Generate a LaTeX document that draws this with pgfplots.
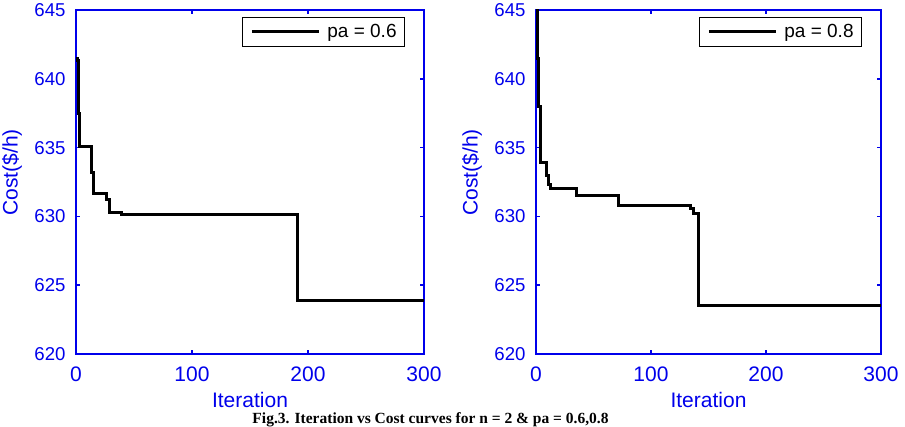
\documentclass[border=0pt]{standalone}
\usepackage{fontspec}
\setmainfont{Liberation Sans}
\newfontfamily\capfont{Liberation Serif}
\usepackage{pgfplots}
\pgfplotsset{compat=1.18}

\definecolor{mblue}{RGB}{0,0,235}

\pgfplotsset{
  costaxis/.style={
    scale only axis,
    anchor=south west,
    height=344pt,
    xmin=0, xmax=300, ymin=620, ymax=645,
    xtick={0,100,200,300},
    ytick={620,625,630,635,640,645},
    tick pos=both,
    tick align=inside,
    major tick length=4pt,
    axis line style={draw=mblue, line width=2pt},
    every tick/.style={draw=mblue, line width=1.5pt},
    /pgf/number format/assume math mode=true,
    tick label style={text=mblue},
    yticklabel style={font=\fontsize{18.6}{20}\selectfont, xshift=-7pt},
    xticklabel style={font=\fontsize{21}{23}\selectfont, yshift=-9pt},
    xlabel={Iteration},
    ylabel={Cost(\$/h)},
    label style={text=mblue, font=\fontsize{21}{23}\selectfont, inner sep=0pt},
    xlabel style={at={(axis description cs:0.5,0)}, anchor=north, yshift=-38pt},
    ylabel style={at={(axis description cs:0,0.528)}, anchor=north, yshift=74pt},
    legend style={at={(1,1)}, anchor=north east, xshift=-19pt, yshift=-7pt,
      draw=black, line width=0.8pt, fill=white,
      font=\fontsize{19}{21}\selectfont, inner xsep=6pt, inner ysep=5pt},
    legend image code/.code={
      \draw[line width=3pt, black] (0pt,0pt) -- (67pt,0pt);
      \path (-2pt,0pt) (72pt,0pt);
    },
    curve/.style={black, line width=3pt, const plot, no marks},
  }
}

\begin{document}
\begin{tikzpicture}[x=1pt, y=1pt]
\useasboundingbox (0,0) rectangle (905,426);

% pa = 0.6
\begin{axis}[costaxis, at={(76pt,72pt)}, width=348pt]
\addplot[curve] coordinates {
  (0,641.5) (1,641.3) (2,637.5) (3,635.1) (13,633.2) (15,631.7)
  (26,631.2) (29,630.3) (39,630.15) (191,623.9) (300,623.9)
};
\addlegendentry{pa = 0.6}
\end{axis}

% pa = 0.8
\begin{axis}[costaxis, at={(536pt,72pt)}, width=345pt]
\addplot[curve] coordinates {
  (0,645) (1,641.5) (2,638) (4,633.9) (9,633.0) (11,632.3) (13,632.0)
  (35,631.5) (72,630.8) (134,630.6) (137,630.2) (141,623.5) (300,623.5)
};
\addlegendentry{pa = 0.8}
\end{axis}

\node[font=\capfont\bfseries\fontsize{15.5}{17}\selectfont, anchor=base, inner sep=0pt]
  at (430.5,3) {Fig.3. Iteration vs Cost curves for n = 2 \& pa = 0.6,0.8};
\end{tikzpicture}
\end{document}
